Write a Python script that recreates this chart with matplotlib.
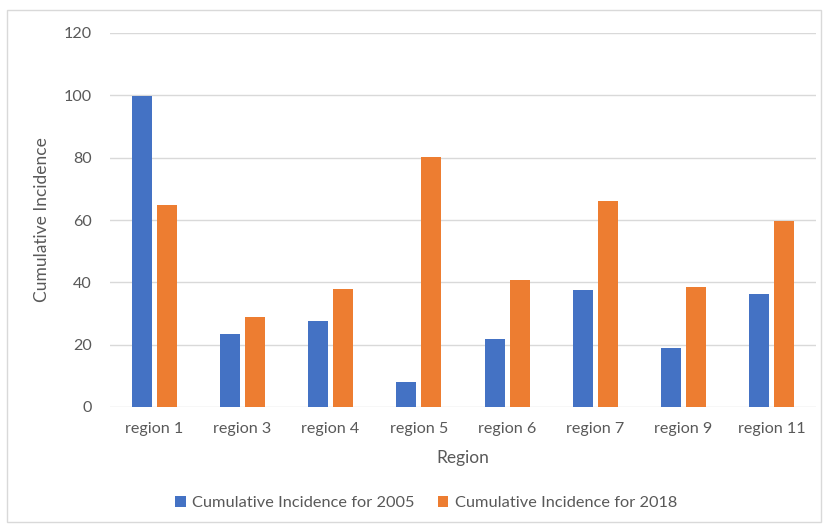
import numpy as np
import matplotlib.pyplot as plt
from matplotlib.patches import Rectangle

regions = ["region 1", "region 3", "region 4", "region 5",
           "region 6", "region 7", "region 9", "region 11"]
ci_2005 = [99.8, 23.4, 27.6, 8.0, 21.7, 37.4, 18.8, 36.1]
ci_2018 = [64.7, 28.8, 37.8, 80.1, 40.9, 66.2, 38.6, 59.8]
yticks = [0, 20, 40, 60, 80, 100, 120]

plt.rcParams['font.family'] = ['Lato', 'DejaVu Sans']
text_color = "#595959"
grid_color = "#d9d9d9"

fig = plt.figure(figsize=(8.28, 5.26), dpi=100)
# light frame around the whole chart
fig.patches.append(Rectangle((7 / 828, 4 / 526), 814 / 828, 512 / 526,
                             transform=fig.transFigure, fill=False,
                             edgecolor=grid_color, linewidth=1))

ax = fig.add_axes([110 / 828, 119 / 526, 706 / 828, 374 / 526])

x = np.arange(len(regions))
width = 0.227
gap = 0.057
ax.bar(x - (width + gap) / 2, ci_2005, width, color="#4472C4",
       label="Cumulative Incidence for 2005", zorder=3)
ax.bar(x + (width + gap) / 2, ci_2018, width, color="#ED7D31",
       label="Cumulative Incidence for 2018", zorder=3)

ax.set_xlim(-0.5, len(regions) - 0.5)
ax.set_ylim(0, 120)
ax.set_yticks(yticks)
ax.set_xticks(x, regions)
ax.grid(axis="y", color=grid_color, linewidth=1, zorder=0)
for s in ax.spines.values():
    s.set_visible(False)
ax.tick_params(axis="both", length=0, colors=text_color, labelsize=11.6)
ax.tick_params(axis="y", pad=13)
ax.tick_params(axis="x", pad=11)

ax.set_xlabel("Region", fontsize=12.5, color=text_color, labelpad=10)
ax.set_ylabel("Cumulative Incidence", fontsize=12.5, color=text_color, labelpad=10)

ax.legend(loc="center", bbox_to_anchor=(426 / 828, 23 / 526),
          bbox_transform=fig.transFigure, ncols=2, frameon=False,
          fontsize=11.8, labelcolor=text_color, handlelength=0.65,
          handleheight=0.65, handletextpad=0.4, columnspacing=1.4)

fig.savefig("out.png", dpi=100)
